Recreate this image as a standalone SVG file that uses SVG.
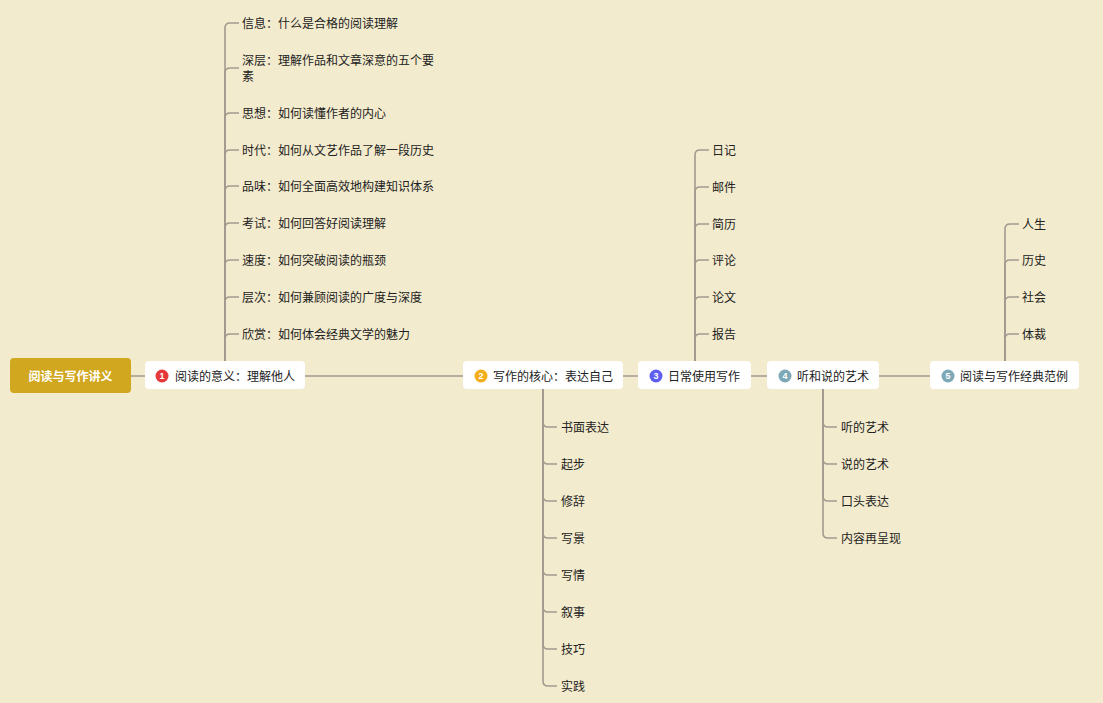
<svg xmlns="http://www.w3.org/2000/svg" width="1103" height="703" viewBox="0 0 1103 703">
<style>
.bg{fill:#F3EBCD}
.ln{fill:none;stroke:#A39A90;stroke-width:1.6}
.node{fill:#FFFFFF}
.root{fill:#D1A71F}
.t{font-family:"Noto Sans CJK SC","Liberation Sans",sans-serif;font-size:12px;fill:#222;dominant-baseline:central}
.rt{font-family:"Noto Sans CJK SC","Liberation Sans",sans-serif;font-size:12px;font-weight:bold;fill:#FFFFFF;dominant-baseline:central;text-anchor:middle}
.num{font-family:"Liberation Sans",sans-serif;font-size:9px;font-weight:bold;fill:#FFFFFF;text-anchor:middle;dominant-baseline:central}
</style>
<rect class="bg" x="0" y="0" width="1103" height="703"/>
<g id="connectors">
<path class="ln" d="M131 376 H930"/>
<path class="ln" d="M225 361 V28 Q225 23 230 23 H239"/>
<path class="ln" d="M225 361 V73 Q225 68 230 68 H239"/>
<path class="ln" d="M225 361 V118 Q225 113 230 113 H239"/>
<path class="ln" d="M225 361 V155 Q225 150 230 150 H239"/>
<path class="ln" d="M225 361 V191 Q225 186 230 186 H239"/>
<path class="ln" d="M225 361 V228 Q225 223 230 223 H239"/>
<path class="ln" d="M225 361 V265 Q225 260 230 260 H239"/>
<path class="ln" d="M225 361 V302 Q225 297 230 297 H239"/>
<path class="ln" d="M225 361 V339 Q225 334 230 334 H239"/>
<path class="ln" d="M543 389 V422 Q543 427 548 427 H557"/>
<path class="ln" d="M543 389 V459 Q543 464 548 464 H557"/>
<path class="ln" d="M543 389 V496 Q543 501 548 501 H557"/>
<path class="ln" d="M543 389 V533 Q543 538 548 538 H557"/>
<path class="ln" d="M543 389 V570 Q543 575 548 575 H557"/>
<path class="ln" d="M543 389 V607 Q543 612 548 612 H557"/>
<path class="ln" d="M543 389 V644 Q543 649 548 649 H557"/>
<path class="ln" d="M543 389 V681 Q543 686 548 686 H557"/>
<path class="ln" d="M695 361 V155 Q695 150 700 150 H709"/>
<path class="ln" d="M695 361 V192 Q695 187 700 187 H709"/>
<path class="ln" d="M695 361 V229 Q695 224 700 224 H709"/>
<path class="ln" d="M695 361 V265 Q695 260 700 260 H709"/>
<path class="ln" d="M695 361 V302 Q695 297 700 297 H709"/>
<path class="ln" d="M695 361 V339 Q695 334 700 334 H709"/>
<path class="ln" d="M823 389 V422 Q823 427 828 427 H837"/>
<path class="ln" d="M823 389 V459 Q823 464 828 464 H837"/>
<path class="ln" d="M823 389 V496 Q823 501 828 501 H837"/>
<path class="ln" d="M823 389 V533 Q823 538 828 538 H837"/>
<path class="ln" d="M1005 361 V229 Q1005 224 1010 224 H1019"/>
<path class="ln" d="M1005 361 V265 Q1005 260 1010 260 H1019"/>
<path class="ln" d="M1005 361 V302 Q1005 297 1010 297 H1019"/>
<path class="ln" d="M1005 361 V339 Q1005 334 1010 334 H1019"/>
</g>
<g id="root">
<rect class="root" x="10" y="358" width="121" height="35" rx="4"/>
<text class="rt" x="70.5" y="375.5">阅读与写作讲义</text>
</g>
<g id="n1">
<rect class="node" x="145" y="361" width="160" height="28" rx="4"/>
<circle cx="162" cy="376" r="6.5" fill="#E5383B"/>
<text class="num" x="162" y="376">1</text>
<text class="t" x="175" y="375.5">阅读的意义：理解他人</text>
</g>
<g id="n2">
<rect class="node" x="463" y="361" width="160" height="28" rx="4"/>
<circle cx="481" cy="376" r="6.5" fill="#F5AE1B"/>
<text class="num" x="481" y="376">2</text>
<text class="t" x="493" y="375.5">写作的核心：表达自己</text>
</g>
<g id="n3">
<rect class="node" x="638" y="361" width="113" height="28" rx="4"/>
<circle cx="656" cy="376" r="6.5" fill="#5E5FF0"/>
<text class="num" x="656" y="376">3</text>
<text class="t" x="668" y="375.5">日常使用写作</text>
</g>
<g id="n4">
<rect class="node" x="767" y="361" width="112" height="28" rx="4"/>
<circle cx="785" cy="376" r="6.5" fill="#7DA8B6"/>
<text class="num" x="785" y="376">4</text>
<text class="t" x="797" y="375.5">听和说的艺术</text>
</g>
<g id="n5">
<rect class="node" x="930" y="361" width="149" height="28" rx="4"/>
<circle cx="948" cy="376" r="6.5" fill="#7DA8B6"/>
<text class="num" x="948" y="376">5</text>
<text class="t" x="960" y="375.5">阅读与写作经典范例</text>
</g>
<g id="b1-children" transform="translate(0,-1)">
<text class="t" x="242" y="23">信息：什么是合格的阅读理解</text>
<text class="t" x="242" y="60">深层：理解作品和文章深意的五个要</text>
<text class="t" x="242" y="76">素</text>
<text class="t" x="242" y="113">思想：如何读懂作者的内心</text>
<text class="t" x="242" y="150">时代：如何从文艺作品了解一段历史</text>
<text class="t" x="242" y="186">品味：如何全面高效地构建知识体系</text>
<text class="t" x="242" y="223">考试：如何回答好阅读理解</text>
<text class="t" x="242" y="260">速度：如何突破阅读的瓶颈</text>
<text class="t" x="242" y="297">层次：如何兼顾阅读的广度与深度</text>
<text class="t" x="242" y="334">欣赏：如何体会经典文学的魅力</text>
</g>
<g id="b2-children" transform="translate(0,-1)">
<text class="t" x="561" y="427">书面表达</text>
<text class="t" x="561" y="464">起步</text>
<text class="t" x="561" y="501">修辞</text>
<text class="t" x="561" y="538">写景</text>
<text class="t" x="561" y="575">写情</text>
<text class="t" x="561" y="612">叙事</text>
<text class="t" x="561" y="649">技巧</text>
<text class="t" x="561" y="686">实践</text>
</g>
<g id="b3-children" transform="translate(0,-1)">
<text class="t" x="712" y="150">日记</text>
<text class="t" x="712" y="187">邮件</text>
<text class="t" x="712" y="224">简历</text>
<text class="t" x="712" y="260">评论</text>
<text class="t" x="712" y="297">论文</text>
<text class="t" x="712" y="334">报告</text>
</g>
<g id="b4-children" transform="translate(0,-1)">
<text class="t" x="841" y="427">听的艺术</text>
<text class="t" x="841" y="464">说的艺术</text>
<text class="t" x="841" y="501">口头表达</text>
<text class="t" x="841" y="538">内容再呈现</text>
</g>
<g id="b5-children" transform="translate(0,-1)">
<text class="t" x="1022" y="224">人生</text>
<text class="t" x="1022" y="260">历史</text>
<text class="t" x="1022" y="297">社会</text>
<text class="t" x="1022" y="334">体裁</text>
</g>
</svg>
